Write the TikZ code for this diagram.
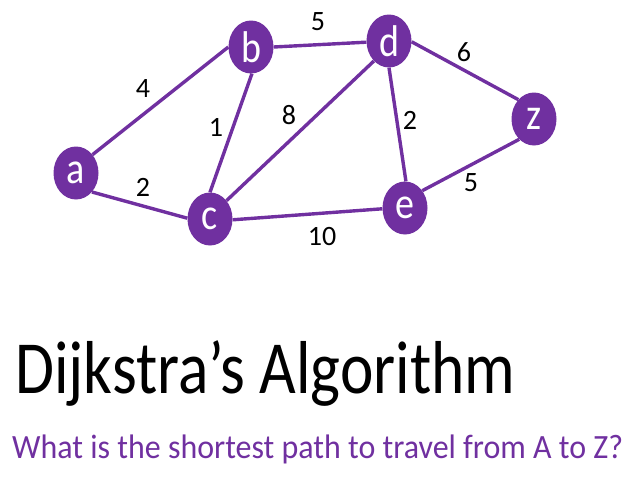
\documentclass[tikz,border=0pt]{standalone}
\usepackage{fontspec}
\setmainfont{Carlito}
\usetikzlibrary{shapes.geometric}
\definecolor{vpurple}{HTML}{7030A0}
\tikzset{
  vert/.style={ellipse, fill=vpurple, inner sep=0pt, minimum width=45pt, minimum height=53pt, text=white, font=\fontsize{38}{40}\selectfont},
  edge/.style={draw=vpurple, line width=3.4pt},
  wlabel/.style={inner sep=0pt, font=\fontsize{28}{30}\selectfont}
}
\newcommand{\vs}[1]{\scalebox{1}[1.17]{#1}}
\begin{document}
\begin{tikzpicture}[x=1pt,y=-1pt]
\useasboundingbox (0,0) rectangle (638,479);
\node[vert] (a) at (76,173) {\vs{a}};
\node[vert] (b) at (251,47) {\vs{b}};
\node[vert] (c) at (210,219) {\vs{c}};
\node[vert] (d) at (389,41) {\vs{d}};
\node[vert] (z) at (534,119) {\vs{z}};
\node[vert] (e) at (405,208) {\vs{e}};
\draw[edge] (a.48) -- (b.180);
\draw[edge] (a.-50) -- (c.178);
\draw[edge] (b.-88) -- (c.90);
\draw[edge] (b.0) -- (d.183);
\draw[edge] (c.48) -- (d.-127);
\draw[edge] (c.-2) -- (e.182);
\draw[edge] (d.-90) -- (e.88);
\draw[edge] (d.-2) -- (z.129);
\draw[edge] (e.45) -- (z.-126);
\node[wlabel] (l1) at (143,89) {4};
\node[wlabel] (l2) at (216,127) {1};
\node[wlabel] (l3) at (289,115) {8};
\node[wlabel] (l4) at (143,187) {2};
\node[wlabel] (l5) at (318,22) {5};
\node[wlabel] (l6) at (464,52) {6};
\node[wlabel] (l7) at (410,120) {2};
\node[wlabel] (l8) at (471,183) {5};
\node[wlabel] (l9) at (322,237) {10};
\node[anchor=base west, inner sep=0pt, font=\fontsize{75}{80}\selectfont] (title) at (15,393) {\resizebox{500pt}{\height}{Dijkstra’s Algorithm}};
\node[anchor=base west, inner sep=0pt, text=vpurple, font=\fontsize{34}{38}\selectfont] (sub) at (12,458) {\resizebox{611pt}{\height}{What is the shortest path to travel from A to Z?}};
\end{tikzpicture}
\end{document}
